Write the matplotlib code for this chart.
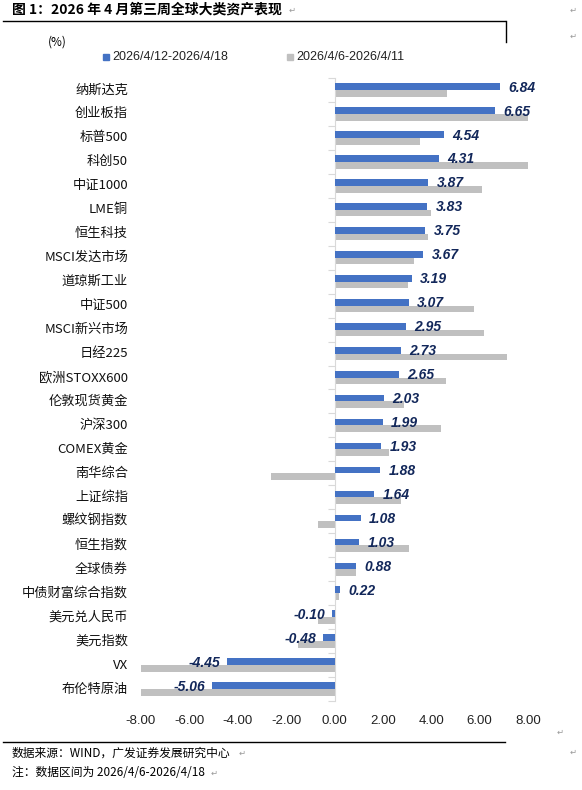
import numpy as np
import matplotlib.pyplot as plt
from matplotlib.transforms import blended_transform_factory

# 资产名称（自上而下）
assets = ['纳斯达克', '创业板指', '标普500', '科创50', '中证1000', 'LME铜', '恒生科技',
          'MSCI发达市场', '道琼斯工业', '中证500', 'MSCI新兴市场', '日经225', '欧洲STOXX600',
          '伦敦现货黄金', '沪深300', 'COMEX黄金', '南华综合', '上证综指', '螺纹钢指数',
          '恒生指数', '全球债券', '中债财富综合指数', '美元兑人民币', '美元指数', 'VX', '布伦特原油']

# 本周涨跌幅 2026/4/12-2026/4/18 (%)
this_week = [6.84, 6.65, 4.54, 4.31, 3.87, 3.83, 3.75, 3.67, 3.19, 3.07, 2.95, 2.73, 2.65,
             2.03, 1.99, 1.93, 1.88, 1.64, 1.08, 1.03, 0.88, 0.22, -0.10, -0.48, -4.45, -5.06]

# 上周涨跌幅 2026/4/6-2026/4/11 (%)
last_week = [4.65, 8.0, 3.55, 8.0, 6.10, 4.01, 3.86, 3.29, 3.02, 5.76, 6.20, 7.15, 4.61,
             2.88, 4.39, 2.27, -2.62, 2.73, -0.69, 3.07, 0.87, 0.18, -0.69, -1.50, -8.0, -8.0]

legend_labels = ['2026/4/12-2026/4/18', '2026/4/6-2026/4/11']
xticks = [-8, -6, -4, -2, 0, 2, 4, 6, 8]

blue = '#4472C4'
grey = '#C0C0C0'
navy = '#12275A'
cjk = ['Noto Sans CJK SC', 'DejaVu Sans']
latin = 'Liberation Sans'

W, H = 582, 790
fig = plt.figure(figsize=(W / 100, H / 100), dpi=100)
ax = fig.add_axes([141 / W, 1 - 701 / H, (528 - 141) / W, (701 - 78) / H])

y = np.arange(len(assets))
bh = 0.28
ax.barh(y - bh / 2, this_week, height=bh, color=blue, zorder=3)
ax.barh(y + bh / 2, last_week, height=bh, color=grey, zorder=2)

ax.set_xlim(-8, 8)
ax.set_ylim(len(assets) - 0.5, -0.5)

# 只保留 0 处的竖轴
for s in ['top', 'right', 'bottom']:
    ax.spines[s].set_visible(False)
ax.spines['left'].set_position(('data', 0))
ax.spines['left'].set_color('#D9D9D9')
ax.set_yticks(np.arange(len(assets) + 1) - 0.5)
ax.set_yticklabels([])
ax.tick_params(axis='y', length=5, color='#D9D9D9', direction='out')
ax.set_xticks(xticks)
ax.set_xticklabels(['%.2f' % v for v in xticks], fontfamily=latin, fontsize=9.5, color='#222222')
ax.tick_params(axis='x', length=0, pad=10)

# 类别标签
trans = blended_transform_factory(fig.transFigure, ax.transData)
for i, name in enumerate(assets):
    ax.text(128 / W, i, name, transform=trans, ha='right', va='center',
            fontsize=9.5, family=cjk, color='#111111')

# 数据标签
for i, v in enumerate(this_week):
    if v >= 0:
        ax.annotate('%.2f' % v, (v, i - 0.1), xytext=(6, 0), textcoords='offset points',
                    ha='left', va='center', fontsize=10, fontweight='bold', fontstyle='italic',
                    family=latin, color=navy, zorder=5)
    else:
        ax.annotate('%.2f' % v, (v, i - 0.1), xytext=(-5, 0), textcoords='offset points',
                    ha='right', va='center', fontsize=10, fontweight='bold', fontstyle='italic',
                    family=latin, color=navy, zorder=5)

# 标题、单位、图例
fig.text(12 / W, 1 - 10 / H, '图 1：2026 年 4 月第三周全球大类资产表现', fontsize=10,
         fontweight='bold', family=cjk, ha='left', va='center')
fig.add_artist(plt.Line2D([3 / W, 505 / W], [1 - 21 / H, 1 - 21 / H], color='black', lw=1))
fig.add_artist(plt.Line2D([506 / W, 506 / W], [1 - 21 / H, 1 - 42 / H], color='black', lw=1))
fig.text(48 / W, 1 - 42 / H, '(%)', fontsize=8.5, family=cjk, ha='left', va='center')

for x0, c, lab in [(103, blue, legend_labels[0]), (287, grey, legend_labels[1])]:
    fig.patches.append(plt.Rectangle((x0 / W, 1 - 60 / H), 6 / W, 6 / H, color=c,
                                     transform=fig.transFigure, figure=fig))
    fig.text((x0 + 9) / W, 1 - 57 / H, lab, fontsize=9, family=latin, ha='left',
             va='center', color='#222222')

# 底部来源
fig.add_artist(plt.Line2D([3 / W, 505 / W], [1 - 742 / H, 1 - 742 / H], color='black', lw=1))
fig.text(12 / W, 1 - 753 / H, '数据来源：WIND，广发证券发展研究中心', fontsize=8.5,
         family=cjk, ha='left', va='center')
fig.text(12 / W, 1 - 773 / H, '注：数据区间为 2026/4/6-2026/4/18', fontsize=8.5,
         family=cjk, ha='left', va='center')

# 段落标记
for px, py in [(292, 10), (573, 10), (573, 36), (560, 732), (573, 752), (242, 753), (214, 773)]:
    fig.text(px / W, 1 - py / H, '\u21b5', fontsize=6, color='#999999', family='DejaVu Sans',
             ha='center', va='center')

fig.savefig('out.png', dpi=100)
